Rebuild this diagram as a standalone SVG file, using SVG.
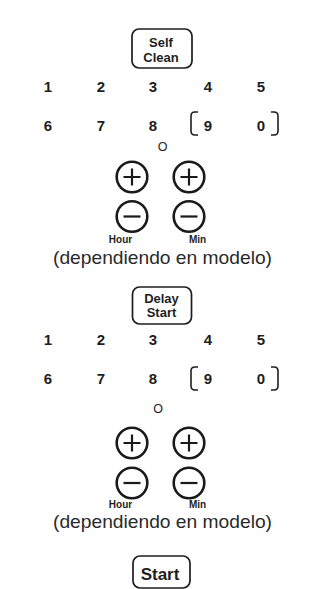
<svg xmlns="http://www.w3.org/2000/svg" width="320" height="589" viewBox="0 0 320 589">
<style>
.btn{fill:none;stroke:#1e1e1e;stroke-width:1.7}
.br{fill:none;stroke:#1e1e1e;stroke-width:1.6}
.bl{font-family:"Liberation Sans",Arial,sans-serif;font-weight:bold;font-size:13px;fill:#1e1e1e;text-anchor:middle}
.dg{font-family:"Liberation Sans",Arial,sans-serif;font-weight:bold;font-size:15px;fill:#1e1e1e;text-anchor:middle}
.or{font-family:"Liberation Sans",Arial,sans-serif;font-size:12.5px;fill:#1e1e1e;text-anchor:middle}
.ci{fill:none;stroke:#1a1a1a;stroke-width:2.6}
.sg{fill:none;stroke:#1a1a1a;stroke-width:2.2}
.hm{font-family:"Liberation Sans",Arial,sans-serif;font-weight:bold;font-size:10px;fill:#1e1e1e;text-anchor:middle}
.dep{font-family:"Liberation Sans",Arial,sans-serif;font-size:18.5px;fill:#2a2a2a;text-anchor:middle}
</style>
<rect width="320" height="589" fill="#ffffff"/>

<g id="self-clean">
<rect class="btn" x="132" y="29" width="60" height="39" rx="7"/>
<text class="bl" x="161" y="47">Self</text>
<text class="bl" x="161" y="61.5">Clean</text>
</g>

<g id="keypad-1">
<text class="dg" x="48" y="92">1</text>
<text class="dg" x="101" y="92">2</text>
<text class="dg" x="153" y="92">3</text>
<text class="dg" x="208" y="92">4</text>
<text class="dg" x="261" y="92">5</text>
<text class="dg" x="48" y="131">6</text>
<text class="dg" x="101" y="131">7</text>
<text class="dg" x="153" y="131">8</text>
<text class="dg" x="208" y="131">9</text>
<text class="dg" x="261" y="131">0</text>
<path class="br" d="M198,112 H195 Q191,112 191,116 V131 Q191,135 195,135 H198"/>
<path class="br" d="M271,112 H274 Q278,112 278,116 V131 Q278,135 274,135 H271"/>
<text class="or" x="162.5" y="150.5">O</text>
</g>

<g id="time-1">
<circle class="ci" cx="132" cy="177" r="15.3"/>
<path class="sg" d="M123.5,177 H140.5 M132,168.5 V185.5"/>
<circle class="ci" cx="189" cy="177" r="15.3"/>
<path class="sg" d="M180.5,177 H197.5 M189,168.5 V185.5"/>
<circle class="ci" cx="132" cy="216.5" r="15.3"/>
<path class="sg" d="M123.5,216.5 H140.5"/>
<circle class="ci" cx="189" cy="216.5" r="15.3"/>
<path class="sg" d="M180.5,216.5 H197.5"/>
<text class="hm" x="120.5" y="243">Hour</text>
<text class="hm" x="197.5" y="243">Min</text>
<text class="dep" x="162.5" y="264" textLength="219" lengthAdjust="spacingAndGlyphs">(dependiendo en modelo)</text>
</g>

<g id="delay-start">
<rect class="btn" x="132.5" y="287" width="59" height="37" rx="7"/>
<text class="bl" x="161.5" y="303">Delay</text>
<text class="bl" x="161.5" y="317">Start</text>
</g>

<g id="keypad-2">
<text class="dg" x="48" y="345">1</text>
<text class="dg" x="101" y="345">2</text>
<text class="dg" x="153" y="345">3</text>
<text class="dg" x="208" y="345">4</text>
<text class="dg" x="261" y="345">5</text>
<text class="dg" x="48" y="384">6</text>
<text class="dg" x="101" y="384">7</text>
<text class="dg" x="153" y="384">8</text>
<text class="dg" x="208" y="384">9</text>
<text class="dg" x="261" y="384">0</text>
<path class="br" d="M198,367 H195 Q191,367 191,371 V386 Q191,390 195,390 H198"/>
<path class="br" d="M271,367 H274 Q278,367 278,371 V386 Q278,390 274,390 H271"/>
<text class="or" x="158" y="413">O</text>
</g>

<g id="time-2">
<circle class="ci" cx="132" cy="443" r="15.3"/>
<path class="sg" d="M123.5,443 H140.5 M132,434.5 V451.5"/>
<circle class="ci" cx="189" cy="443" r="15.3"/>
<path class="sg" d="M180.5,443 H197.5 M189,434.5 V451.5"/>
<circle class="ci" cx="132" cy="483" r="15.3"/>
<path class="sg" d="M123.5,483 H140.5"/>
<circle class="ci" cx="189" cy="483" r="15.3"/>
<path class="sg" d="M180.5,483 H197.5"/>
<text class="hm" x="120.5" y="508">Hour</text>
<text class="hm" x="197.5" y="508">Min</text>
<text class="dep" x="162.5" y="528" textLength="219" lengthAdjust="spacingAndGlyphs">(dependiendo en modelo)</text>
</g>

<g id="start">
<rect class="btn" x="133" y="556" width="57" height="32" rx="7"/>
<text class="bl" x="160" y="579.5" style="font-size:17px">Start</text>
</g>
</svg>
